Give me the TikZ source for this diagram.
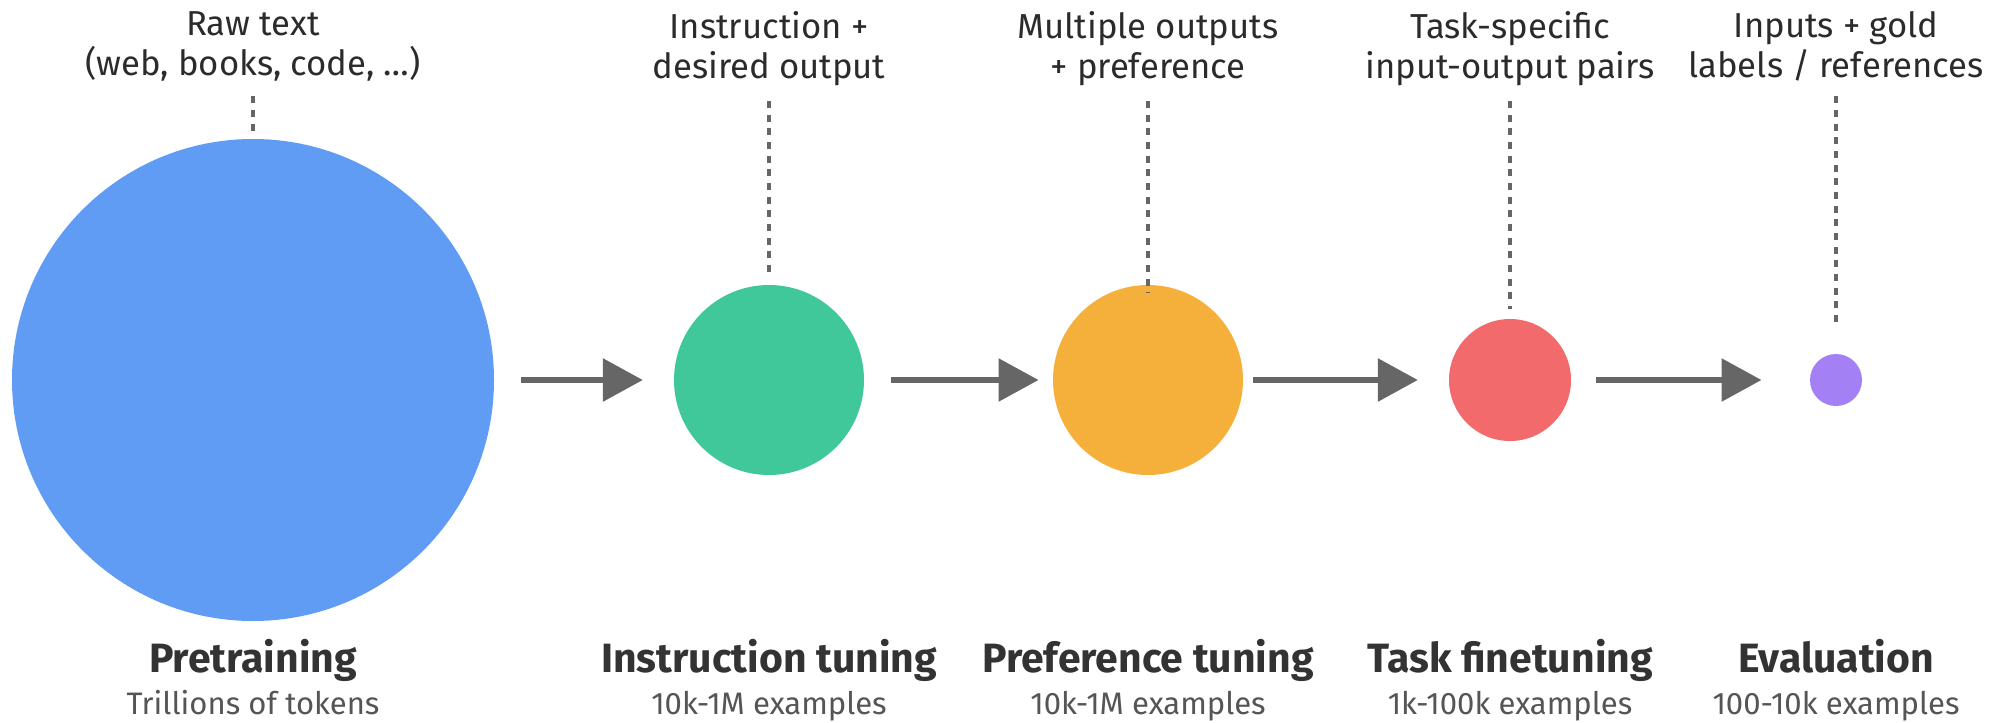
\documentclass[tikz,border=0pt]{standalone}
\usepackage{fontspec}
\setmainfont{Fira Sans}
\usetikzlibrary{arrows.meta}

\definecolor{pretrainblue}{HTML}{619CF4}
\definecolor{instructgreen}{HTML}{40C89A}
\definecolor{preforange}{HTML}{F5AF3B}
\definecolor{taskred}{HTML}{F26A6B}
\definecolor{evalpurple}{HTML}{A380F4}
\definecolor{guidegray}{HTML}{666666}
\definecolor{titlegray}{HTML}{333333}
\definecolor{subgray}{HTML}{555555}
\definecolor{textgray}{HTML}{2B2B2B}

\tikzset{every picture/.style={line width=0.75pt}}
\tikzset{
  stage/.style={circle, inner sep=0pt, draw=none},
  toplabel/.style={anchor=north, align=center, inner sep=0pt, text=textgray,
    font=\fontsize{26pt}{30pt}\selectfont},
  stagetitle/.style={anchor=base, inner sep=0pt, text=titlegray,
    font=\fontsize{30.7pt}{34pt}\selectfont\bfseries},
  stagesub/.style={anchor=base, inner sep=0pt, text=subgray,
    font=\fontsize{23.3pt}{27pt}\selectfont},
  guide/.style={guidegray, line width=2.6pt, dash pattern={on 5.25pt off 5pt}, shorten <=11pt},
  flow/.style={guidegray, line width=4.5pt, -{Triangle[length=30pt, width=31.5pt]}}
}

\begin{document}
\begin{tikzpicture}[x=0.75pt,y=0.75pt,yscale=-1,xscale=1]
    \path[use as bounding box] (0,0) rectangle (2007,722);

    %Shape: Circle
    \node[stage, fill=pretrainblue, minimum size=361.5pt] (pre) at (253,380) {};
    %Shape: Circle
    \node[stage, fill=instructgreen, minimum size=142.5pt] (inst) at (769,380) {};
    %Shape: Circle
    \node[stage, fill=preforange, minimum size=142.5pt] (pref) at (1148,380) {};
    %Shape: Circle
    \node[stage, fill=taskred, minimum size=91.5pt] (task) at (1510,380) {};
    %Shape: Circle
    \node[stage, fill=evalpurple, minimum size=39pt] (eval) at (1836,380) {};

    %Straight Lines
    \draw[flow, shorten <=19.5pt, shorten >=23pt] (pre) -- (inst);
    \draw[flow, shorten <=19.5pt, shorten >=10.5pt] (inst) -- (pref);
    \draw[flow, shorten <=7pt, shorten >=23pt] (pref) -- (task);
    \draw[flow, shorten <=18pt, shorten >=36pt] (task) -- (eval);

    % top labels
    \node[toplabel] (pretxt) at (253,11) {Raw text\\(web, books, code, …)};
    \node[toplabel] (insttxt) at (769,11) {Instruction +\\desired output};
    \node[toplabel] (preftxt) at (1148,11) {Multiple outputs\\+ preference};
    \node[toplabel] (tasktxt) at (1510,11) {Task-specific\\input-output pairs};
    \node[toplabel] (evaltxt) at (1836,11) {Inputs + gold\\labels / references};

    %Dashed Lines
    \draw[guide, shorten >=6pt] (pretxt.south) -- (pre.north);
    \draw[guide, shorten >=6pt] (insttxt.south) -- (inst.north);
    \draw[guide, shorten >=-6pt] (preftxt.south) -- (pref.north);
    \draw[guide, shorten >=7.5pt] (tasktxt.south) -- (task.north);
    \draw[guide, shorten >=22.5pt] (evaltxt.south) -- (eval.north);

    % bottom labels
    \node[stagetitle] (pretitle) at (253,672) {Pretraining};
    \node[stagesub] (presub) at (253,714) {Trillions of tokens};
    \node[stagetitle] (insttitle) at (769,672) {Instruction tuning};
    \node[stagesub] (instsub) at (769,714) {10k-1M examples};
    \node[stagetitle] (preftitle) at (1148,672) {Preference tuning};
    \node[stagesub] (prefsub) at (1148,714) {10k-1M examples};
    \node[stagetitle] (tasktitle) at (1510,672) {Task finetuning};
    \node[stagesub] (tasksub) at (1510,714) {1k-100k examples};
    \node[stagetitle] (evaltitle) at (1836,672) {Evaluation};
    \node[stagesub] (evalsub) at (1836,714) {100-10k examples};

\end{tikzpicture}
\end{document}
